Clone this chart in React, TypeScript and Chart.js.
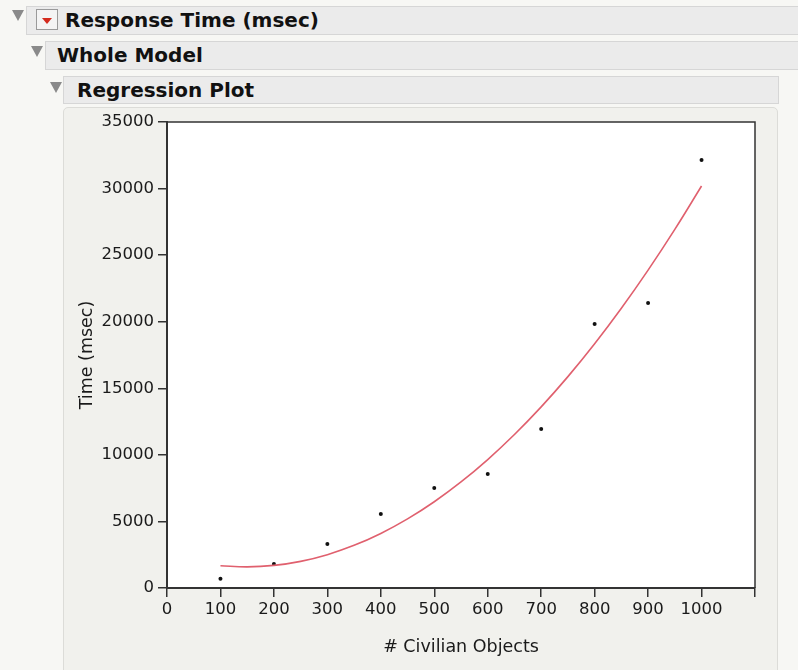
import React, { useEffect, useRef } from "react";
import { Chart, registerables } from "chart.js";

Chart.register(...registerables);

const objectCounts = [100, 200, 300, 400, 500, 600, 700, 800, 900, 1000];
const responseTimes = [700, 1800, 3300, 5560, 7510, 8560, 11940, 19830, 21400, 32140];

const fitX = [100, 150, 200, 250, 300, 350, 400, 450, 500, 550, 600, 650, 700, 750, 800, 850, 900, 950, 1000];
const fitY = [1675, 1587, 1696, 2002, 2504, 3203, 4098, 5191, 6480, 7965, 9648, 11527, 13603, 15875, 18344, 21010, 23873, 26932, 30190];

const xTickLabels = ["0", "100", "200", "300", "400", "500", "600", "700", "800", "900", "1000"];

const FONT = "'DejaVu Sans', 'Noto Sans', sans-serif";

const framePlugin = {
  id: "frame",
  beforeDraw(chart: any) {
    const { ctx, chartArea } = chart;
    ctx.save();
    ctx.fillStyle = "#ffffff";
    ctx.fillRect(chartArea.left, chartArea.top, chartArea.right - chartArea.left, chartArea.bottom - chartArea.top);
    ctx.restore();
  },
  afterDraw(chart: any) {
    const { ctx, chartArea } = chart;
    ctx.save();
    ctx.strokeStyle = "#333";
    ctx.lineWidth = 1.5;
    ctx.beginPath();
    ctx.moveTo(chartArea.left, chartArea.top);
    ctx.lineTo(chartArea.right, chartArea.top);
    ctx.lineTo(chartArea.right, chartArea.bottom);
    ctx.stroke();
    ctx.restore();
  },
};

function Tri({ x, y }: { x: number; y: number }) {
  return (
    <div
      style={{
        position: "absolute",
        left: x,
        top: y,
        width: 0,
        height: 0,
        borderLeft: "6px solid transparent",
        borderRight: "6px solid transparent",
        borderTop: "11px solid #8a8a8a",
      }}
    />
  );
}

function Bar({ x, y, w, h, text, size, right }: any) {
  return (
    <div
      style={{
        position: "absolute",
        left: x,
        top: y,
        width: w,
        height: h,
        boxSizing: "border-box",
        background: "#ebebeb",
        border: "1px solid #d6d6d6",
        borderRight: right ? "1px solid #d6d6d6" : "none",
      }}
    >
      <span
        style={{
          position: "absolute",
          left: text.dx,
          top: 1,
          fontFamily: FONT,
          fontWeight: "bold",
          fontSize: size,
          color: "#111",
          whiteSpace: "nowrap",
        }}
      >
        {text.t}
      </span>
    </div>
  );
}

export default function App() {
  const ref = useRef<HTMLCanvasElement>(null);

  useEffect(() => {
    const canvas = ref.current!;
    const chart = new Chart(canvas, {
      type: "scatter",
      data: {
        datasets: [
          {
            label: "Fit",
            data: fitX.map((x, i) => ({ x, y: fitY[i] })),
            showLine: true,
            borderColor: "#e0606e",
            borderWidth: 1.6,
            pointRadius: 0,
            tension: 0.4,
            fill: false,
          },
          {
            label: "Observed",
            data: objectCounts.map((x, i) => ({ x, y: responseTimes[i] })),
            pointRadius: 2,
            pointBackgroundColor: "#111",
            pointBorderColor: "#111",
            pointBorderWidth: 0,
          },
        ],
      },
      options: {
        animation: false,
        responsive: false,
        maintainAspectRatio: false,
        layout: { padding: { left: 0, top: 15, right: 23, bottom: 0 } },
        plugins: { legend: { display: false }, tooltip: { enabled: false } },
        scales: {
          x: {
            type: "linear",
            min: 0,
            max: 1100,
            afterFit(scale: any) {
              scale.height = 82;
            },
            afterBuildTicks(scale: any) {
              scale.ticks = xTickLabels.map((_, i) => ({ value: i * 100 })).concat([{ value: 1100 }]);
            },
            ticks: {
              autoSkip: false,
              maxRotation: 0,
              padding: 3,
              color: "#1a1a1a",
              font: { family: FONT, size: 16.5 },
              callback: (v: any) => {
                const i = Math.round(Number(v) / 100);
                return i < xTickLabels.length ? xTickLabels[i] : "";
              },
            },
            grid: {
              drawOnChartArea: false,
              drawTicks: true,
              tickLength: 9,
              color: "#333",
              lineWidth: 1.5,
            },
            border: { display: true, color: "#333", width: 2 },
            title: {
              display: true,
              text: "# Civilian Objects",
              color: "#1a1a1a",
              font: { family: FONT, size: 17.5 },
              padding: { top: 0, bottom: 12 },
            },
          },
          y: {
            type: "linear",
            min: 0,
            max: 35000,
            afterFit(scale: any) {
              scale.width = 104;
            },
            ticks: {
              stepSize: 5000,
              padding: 4,
              color: "#1a1a1a",
              font: { family: FONT, size: 16.5 },
              callback: (v: any) => String(v),
            },
            grid: {
              drawOnChartArea: false,
              drawTicks: true,
              tickLength: 9,
              color: "#333",
              lineWidth: 1.5,
            },
            border: { display: true, color: "#333", width: 2 },
            title: {
              display: true,
              text: "Time (msec)",
              color: "#1a1a1a",
              font: { family: FONT, size: 17.5 },
              padding: { top: 14, bottom: 0 },
            },
          },
        },
      },
      plugins: [framePlugin],
    });
    return () => chart.destroy();
  }, []);

  return (
    <div
      style={{
        position: "absolute",
        left: 0,
        top: 0,
        width: 798,
        height: 670,
        background: "#f7f7f4",
        overflow: "hidden",
      }}
    >
      <Tri x={12} y={10} />
      <Bar x={26} y={6} w={772} h={29} size={20} text={{ t: "Response Time (msec)", dx: 38 }} />
      <div
        style={{
          position: "absolute",
          left: 36,
          top: 9,
          width: 22,
          height: 21,
          boxSizing: "border-box",
          border: "1px solid #9a9a9a",
          background: "#f4f4f4",
        }}
      >
        <div
          style={{
            position: "absolute",
            left: 5,
            top: 8,
            width: 0,
            height: 0,
            borderLeft: "5px solid transparent",
            borderRight: "5px solid transparent",
            borderTop: "6px solid #d42a1e",
          }}
        />
      </div>
      <Tri x={31} y={46} />
      <Bar x={45} y={41} w={753} h={29} size={20} text={{ t: "Whole Model", dx: 11 }} />
      <Tri x={50} y={82} />
      <Bar x={63} y={76} w={716} h={28} size={20} right={true} text={{ t: "Regression Plot", dx: 13 }} />
      <div
        style={{
          position: "absolute",
          left: 63,
          top: 107,
          width: 715,
          height: 570,
          boxSizing: "border-box",
          background: "#f1f1ed",
          border: "1px solid #dcdcd8",
          borderRadius: 5,
        }}
      />
      <canvas
        ref={ref}
        width={715}
        height={563}
        style={{ position: "absolute", left: 63, top: 107, width: 715, height: 563 }}
      />
    </div>
  );
}
